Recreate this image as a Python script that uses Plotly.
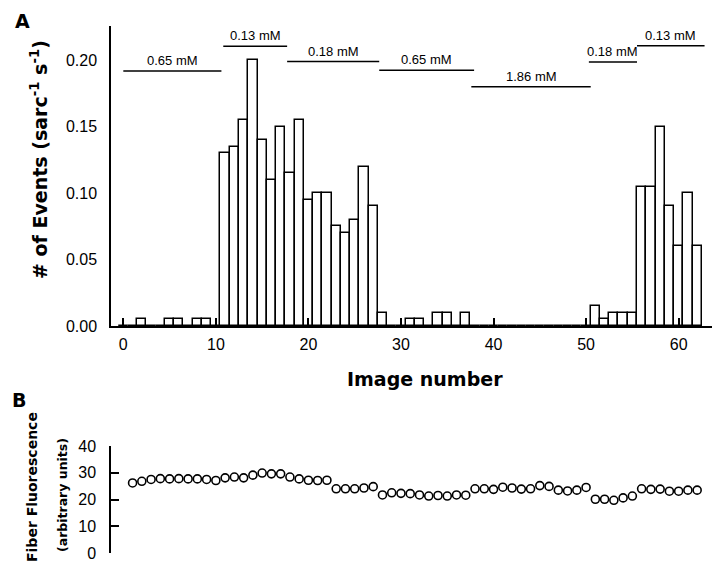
import plotly.graph_objects as go

# panel A: spark frequency per image
event_images = list(range(63))
event_rate = [0, 0, 0.005, 0, 0, 0.005, 0.005, 0, 0.005, 0.005,
              0, 0.13, 0.135, 0.155, 0.20, 0.14, 0.11, 0.15, 0.115, 0.155,
              0.095, 0.10, 0.10, 0.075, 0.07, 0.08, 0.12, 0.09, 0.01, 0,
              0, 0.005, 0.005, 0, 0.01, 0.01, 0, 0.01, 0, 0,
              0, 0, 0, 0, 0, 0, 0, 0, 0, 0,
              0, 0.015, 0.005, 0.01, 0.01, 0.01, 0.105, 0.105, 0.15, 0.09,
              0.06, 0.10, 0.06]

# concentration periods (image number where they start / stop)
conc_labels = ["0.65 mM", "0.13 mM", "0.18 mM", "0.65 mM", "1.86 mM", "0.18 mM", "0.13 mM"]
conc_start = [0, 10.8, 17.7, 27.65, 37.6, 50.3, 55.5]
conc_end = [10.6, 17.7, 27.65, 37.9, 50.5, 55.5, 62.8]
conc_level = [0.192, 0.2105, 0.199, 0.1925, 0.18, 0.1987, 0.211]

# panel B: fiber fluorescence
fluo_images = list(range(1, 63))
fluo_values = [26.2, 26.8, 27.5, 27.8, 27.7, 27.8, 27.7, 27.7, 27.5, 27.1,
               28.1, 28.4, 28.1, 29.1, 29.9, 29.6, 29.6, 28.4, 27.7, 27.2,
               27.1, 27.2, 24.0, 24.0, 24.0, 24.3, 24.8, 21.7, 22.5, 22.3,
               22.2, 21.7, 21.3, 21.5, 21.3, 21.7, 21.6, 24.0, 24.0, 23.8,
               24.6, 24.3, 23.9, 24.0, 25.2, 24.9, 23.5, 23.2, 23.5, 24.5,
               20.1, 20.1, 19.7, 20.6, 21.3, 24.0, 23.8, 23.9, 23.1, 23.1,
               23.5, 23.5]

FONT = "Liberation Sans, Arial, sans-serif"
BOLD = "DejaVu Sans, sans-serif"

fig = go.Figure()
fig.add_trace(go.Bar(x=event_images, y=event_rate, width=1,
                     marker=dict(color="white", line=dict(color="black", width=1.5)),
                     xaxis="x", yaxis="y", showlegend=False))
fig.add_trace(go.Scatter(x=fluo_images, y=fluo_values, mode="markers",
                         marker=dict(symbol="circle", size=8, color="white",
                                     line=dict(color="black", width=1.6)),
                         xaxis="x2", yaxis="y2", showlegend=False))

for lab, x0, x1, lv in zip(conc_labels, conc_start, conc_end, conc_level):
    fig.add_shape(type="line", xref="x", yref="y", x0=x0, x1=x1, y0=lv, y1=lv,
                  line=dict(color="black", width=1.5))
    fig.add_annotation(x=(x0 + x1) / 2, y=lv, xref="x", yref="y", text=lab,
                       showarrow=False, yanchor="bottom", yshift=1,
                       font=dict(size=13, color="black", family=FONT))

fig.update_layout(
    width=720, height=567,
    margin=dict(l=103, r=4, t=18, b=22),
    paper_bgcolor="white", plot_bgcolor="white",
    font=dict(family=FONT, color="black"),
    bargap=0,
    xaxis=dict(domain=[0, 1], anchor="y", range=[-1.33, 64.9],
               tickvals=[0, 10, 20, 30, 40, 50, 60], ticks="inside", ticklen=8,
               tickwidth=1.5, tickcolor="black", showline=True, linecolor="black",
               linewidth=1.5, showgrid=False, zeroline=False,
               tickfont=dict(size=16), ticklabelstandoff=3),
    yaxis=dict(domain=[0.4307, 1], anchor="x", range=[0, 0.2258],
               tickvals=[0, 0.05, 0.10, 0.15, 0.20], tickformat=".2f",
               ticks="", showline=True, linecolor="black", linewidth=1.5,
               showgrid=False, zeroline=False, tickfont=dict(size=16),
               ticklabelstandoff=9),
    xaxis2=dict(domain=[0, 1], anchor="y2", matches="x", visible=False),
    yaxis2=dict(domain=[0, 0.203], anchor="x2", range=[0, 40],
                tickvals=[0, 10, 20, 30, 40], ticks="inside", ticklen=8,
                tickwidth=1.5, tickcolor="black", showline=True, linecolor="black",
                linewidth=1.5, showgrid=False, zeroline=False,
                tickfont=dict(size=16), ticklabelstandoff=10),
)

def note(text, x, y, size, angle=0):
    fig.add_annotation(text=text, x=(x - 103) / 613, y=(545 - y) / 527,
                       xref="paper", yref="paper",
                       showarrow=False, textangle=angle, xanchor="center",
                       yanchor="middle", font=dict(size=size, color="black", family=BOLD))

note("<b>A</b>", 14, 13, 19)
note("<b>B</b>", 11, 392, 19)
note("<b># of Events (sarc<sup>-1</sup> s<sup>-1</sup>)</b>", 31, 152, 19, -90)
note("<b>Image number</b>", 417, 371, 19)
note("<b>Fiber Fluorescence</b>", 24, 479, 14, -90)
note("<b>(arbitrary units)</b>", 54, 487, 12.5, -90)

fig.write_html("out.html")
